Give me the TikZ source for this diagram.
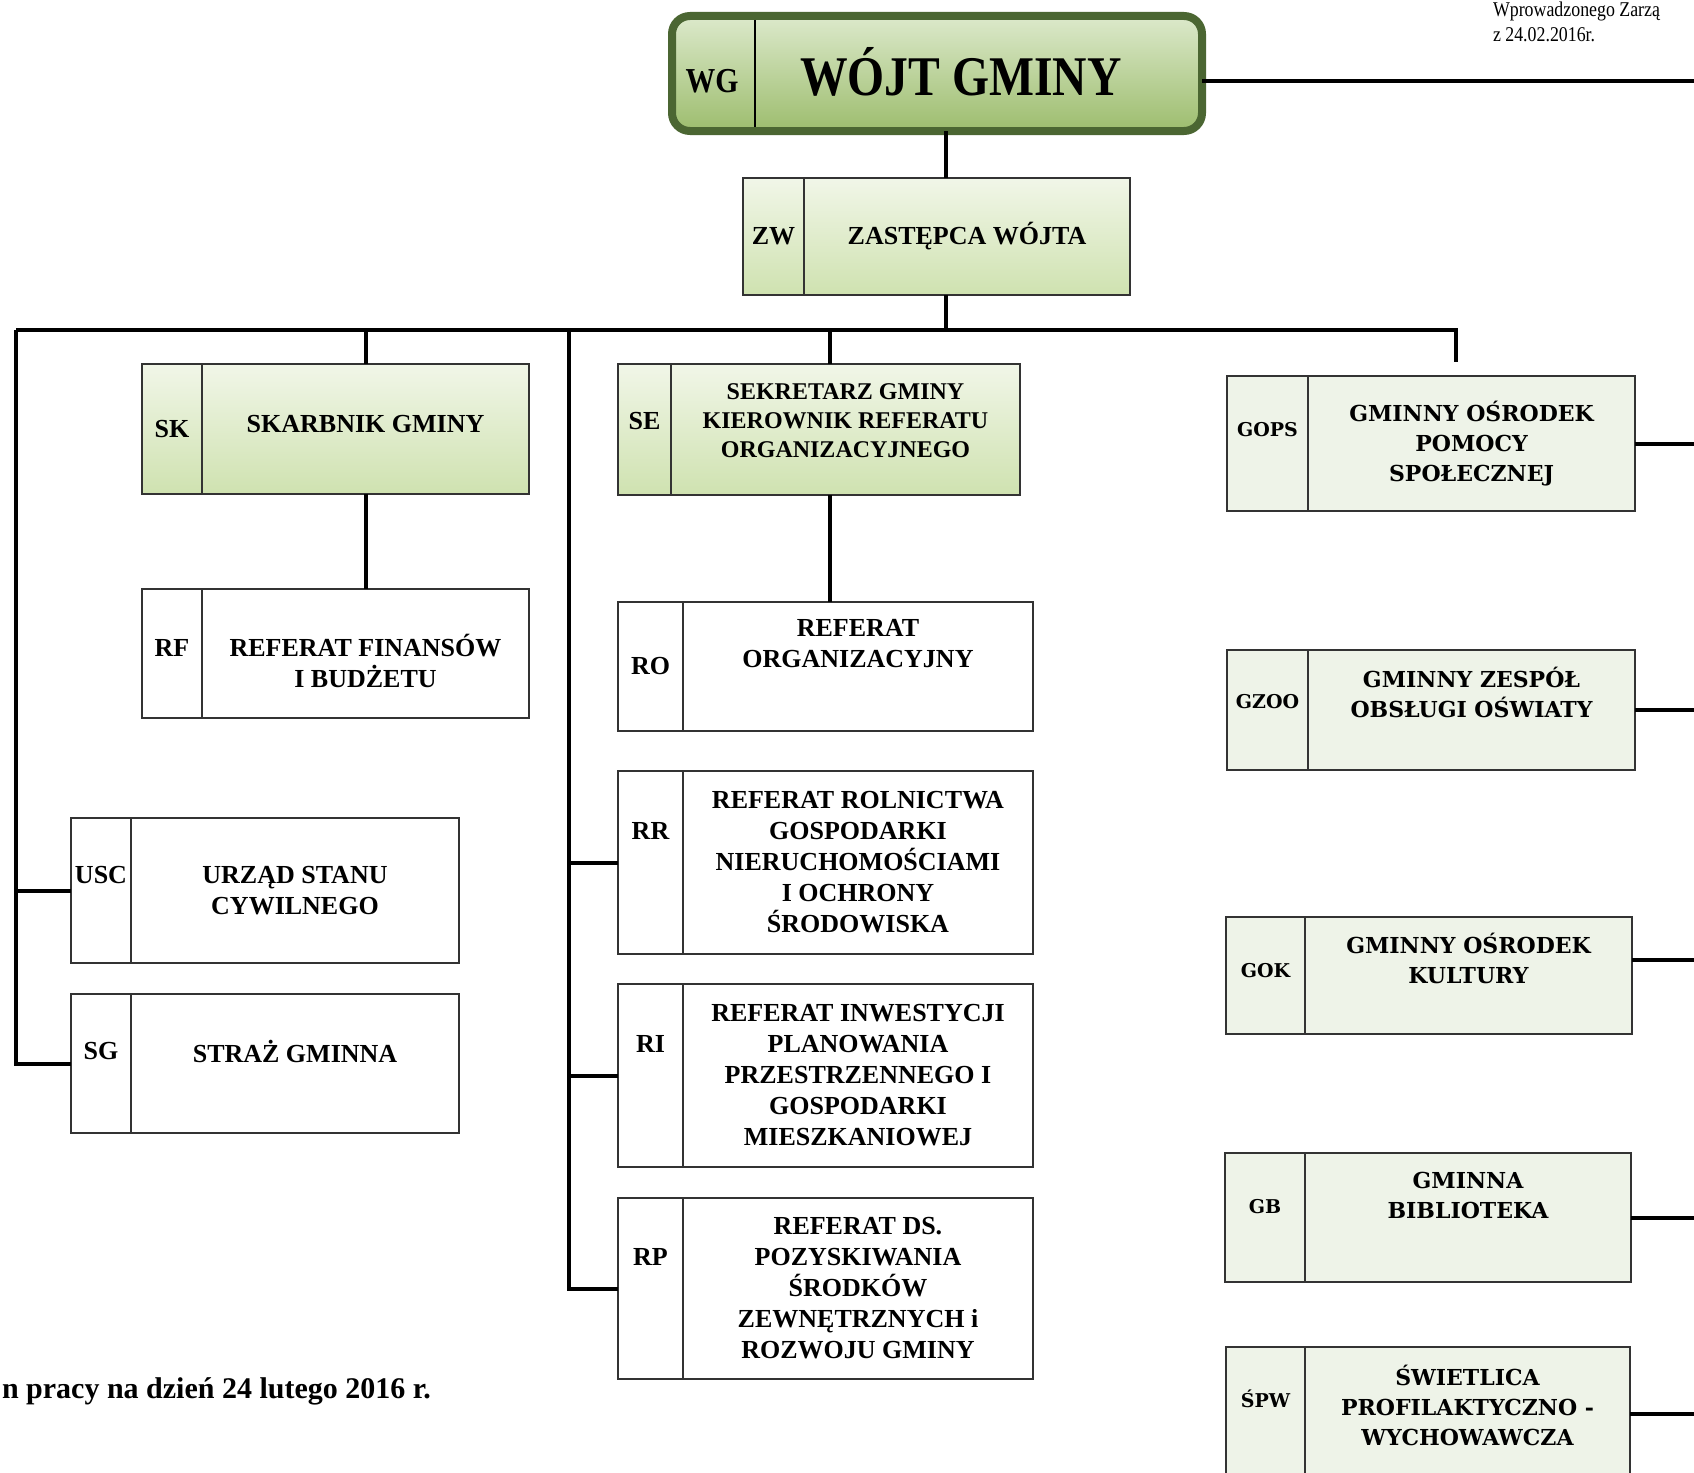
\documentclass[tikz,border=0pt]{standalone}
\usepackage{fontspec}
\setmainfont{Liberation Serif}
\newfontfamily\narrowserif[FakeStretch=0.85]{Liberation Serif}
\newfontfamily\wideserif{DejaVu Serif}
\usetikzlibrary{positioning}
\definecolor{wgborder}{HTML}{4B6632}
\definecolor{wgtop}{HTML}{DCE9CB}
\definecolor{wgbottom}{HTML}{9DBD6E}
\definecolor{paletop}{HTML}{F1F6E8}
\definecolor{palebottom}{HTML}{CFE2B0}
\definecolor{unitfill}{HTML}{EEF3E8}
\tikzset{x=1pt, y=-1pt,
  every node/.style={align=center, inner sep=0pt, outer sep=0pt},
  cell/.style={ % one part of a unit box
    draw=black!80, line width=1.8pt, anchor=north west,
    font=\bfseries\fontsize{26}{31}\selectfont},
  greencell/.style={cell, top color=paletop, bottom color=palebottom},
  whitecell/.style={cell, fill=white},
  unitcell/.style={cell, fill=unitfill,
    font=\wideserif\bfseries\fontsize{22}{30}\selectfont},
  unitcode/.style={unitcell, font=\wideserif\bfseries\fontsize{19}{23}\selectfont},
  celltext/.style={font=\bfseries\fontsize{26}{31}\selectfont},
  unittext/.style={font=\wideserif\bfseries\fontsize{22}{30}\selectfont},
  unitcodetext/.style={font=\wideserif\bfseries\fontsize{19}{23}\selectfont},
  link/.style={draw, line width=4pt}}

\begin{document}
\begin{tikzpicture}
  \useasboundingbox (0,0) rectangle (1694,1472);
  \fill[white] (0,0) rectangle (1694,1472);

  % head of the office
  \node[draw=wgborder, line width=8pt, rounded corners=18pt, top color=wgtop,
    bottom color=wgbottom, anchor=north west, minimum width=530pt,
    minimum height=115pt] (wg) at (672,16) {};
  \draw[line width=1.6pt] ([xshift=83pt,yshift=-4pt]wg.north west) -- ([xshift=83pt,yshift=4pt]wg.south west);
  \node[font=\narrowserif\bfseries\fontsize{35}{40}\selectfont] (wgcode) at (712,81) {WG};
  \node[font=\narrowserif\bfseries\fontsize{56}{60}\selectfont] (wgtitle) at (961,72) {WÓJT GMINY};

  \node[anchor=north west, font=\narrowserif\fontsize{21}{25}\selectfont, align=left] (note) at (1493,2) {Wprowadzonego Zarzą\\z 24.02.2016r.};
  \node[anchor=base west, font=\bfseries\fontsize{30}{34}\selectfont] (date) at (2,1398) {n pracy na dzień 24 lutego 2016 r.};

  \node[greencell, minimum width=61pt, minimum height=117pt] (zwc) at (743,178) {ZW};
  \node[greencell, right=0pt of zwc, minimum width=326pt, minimum height=117pt] (zw) {ZASTĘPCA WÓJTA};

  % left branch
  \node[greencell, minimum width=60pt, minimum height=130pt] (skc) at (142,364) {SK};
  \node[greencell, right=0pt of skc, minimum width=327pt, minimum height=130pt] (sk) {};
  \node[celltext] (sktext) at ([yshift=5pt]sk.center) {SKARBNIK GMINY};
  \node[whitecell, minimum width=60pt, minimum height=129pt] (rfc) at (142,589) {};
  \node[whitecell, right=0pt of rfc, minimum width=327pt, minimum height=129pt] (rf) {};
  \node[celltext] (rflabel) at ([yshift=6pt]rfc.center) {RF};
  \node[celltext] (rftext) at ([yshift=-7pt]rf.center) {REFERAT FINANSÓW\\I BUDŻETU};

  \node[whitecell, minimum width=60pt, minimum height=145pt] (uscc) at (71,818) {};
  \node[whitecell, right=0pt of uscc, minimum width=328pt, minimum height=145pt] (usc) {URZĄD STANU\\CYWILNEGO};
  \node[celltext] (usclabel) at ([yshift=15pt]uscc.center) {USC};
  \node[whitecell, minimum width=60pt, minimum height=139pt] (sgc) at (71,994) {};
  \node[whitecell, right=0pt of sgc, minimum width=328pt, minimum height=139pt] (sg) {};
  \node[celltext] (sglabel) at ([yshift=12pt]sgc.center) {SG};
  \node[celltext] (sgtext) at ([yshift=12pt]sg.center) {STRAŻ GMINNA};

  % middle branch
  \node[greencell, minimum width=53pt, minimum height=131pt] (sec) at (618,364) {};
  \node[greencell, right=0pt of sec, minimum width=349pt, minimum height=131pt] (se) {};
  \node[celltext] (selabel) at ([yshift=8pt]sec.center) {SE};
  \node[font=\bfseries\fontsize{24}{29}\selectfont] (setext) at ([yshift=9pt]se.center) {SEKRETARZ GMINY\\KIEROWNIK REFERATU\\ORGANIZACYJNEGO};
  \node[whitecell, minimum width=65pt, minimum height=129pt] (roc) at (618,602) {RO};
  \node[whitecell, right=0pt of roc, minimum width=350pt, minimum height=129pt] (ro) {};
  \node[celltext] (rotext) at ([yshift=23pt]ro.center) {REFERAT\\ORGANIZACYJNY};

  \node[whitecell, minimum width=65pt, minimum height=183pt] (rrc) at (618,771) {};
  \node[whitecell, right=0pt of rrc, minimum width=350pt, minimum height=183pt] (rr) {REFERAT ROLNICTWA\\GOSPODARKI\\NIERUCHOMOŚCIAMI\\I OCHRONY\\ŚRODOWISKA};
  \node[celltext] (rrlabel) at ([yshift=32pt]rrc.center) {RR};
  \node[whitecell, minimum width=65pt, minimum height=183pt] (ric) at (618,984) {};
  \node[whitecell, right=0pt of ric, minimum width=350pt, minimum height=183pt] (ri) {REFERAT INWESTYCJI\\PLANOWANIA\\PRZESTRZENNEGO I\\GOSPODARKI\\MIESZKANIOWEJ};
  \node[celltext] (rilabel) at ([yshift=32pt]ric.center) {RI};
  \node[whitecell, minimum width=65pt, minimum height=181pt] (rpc) at (618,1198) {};
  \node[whitecell, right=0pt of rpc, minimum width=350pt, minimum height=181pt] (rp) {REFERAT DS.\\POZYSKIWANIA\\ŚRODKÓW\\ZEWNĘTRZNYCH i\\ROZWOJU GMINY};
  \node[celltext] (rplabel) at ([yshift=32pt]rpc.center) {RP};

  % municipal units
  \node[unitcode, minimum width=81pt, minimum height=135pt] (gopsc) at (1227,376) {};
  \node[unitcell, right=0pt of gopsc, minimum width=327pt, minimum height=135pt] (gops) {GMINNY OŚRODEK\\POMOCY\\SPOŁECZNEJ};
  \node[unitcodetext] (gopslabel) at ([yshift=14pt]gopsc.center) {GOPS};
  \node[unitcode, minimum width=81pt, minimum height=120pt] (gzooc) at (1227,650) {};
  \node[unitcell, right=0pt of gzooc, minimum width=327pt, minimum height=120pt] (gzoo) {};
  \node[unitcodetext] (gzoolabel) at ([yshift=8pt]gzooc.center) {GZOO};
  \node[unittext] (gzootext) at ([yshift=18pt]gzoo.center) {GMINNY ZESPÓŁ\\OBSŁUGI OŚWIATY};
  \node[unitcode, minimum width=79pt, minimum height=117pt] (gokc) at (1226,917) {};
  \node[unitcell, right=0pt of gokc, minimum width=327pt, minimum height=117pt] (gok) {};
  \node[unitcodetext] (goklabel) at ([yshift=5pt]gokc.center) {GOK};
  \node[unittext] (goktext) at ([yshift=17pt]gok.center) {GMINNY OŚRODEK\\KULTURY};
  \node[unitcode, minimum width=80pt, minimum height=129pt] (gbc) at (1225,1153) {};
  \node[unitcell, right=0pt of gbc, minimum width=326pt, minimum height=129pt] (gb) {};
  \node[unitcodetext] (gblabel) at ([yshift=11pt]gbc.center) {GB};
  \node[unittext] (gbtext) at ([yshift=22pt]gb.center) {GMINNA\\BIBLIOTEKA};
  \node[unitcode, minimum width=79pt, minimum height=133pt] (spwc) at (1226,1347) {};
  \node[unitcell, right=0pt of spwc, minimum width=325pt, minimum height=133pt] (spw) {};
  \node[unitcodetext] (spwlabel) at ([yshift=15pt]spwc.center) {ŚPW};
  \node[unittext] (spwtext) at ([yshift=8pt]spw.center) {ŚWIETLICA\\PROFILAKTYCZNO -\\WYCHOWAWCZA};

  % connectors
  \coordinate (trunk) at (946,330);
  \coordinate (busleft) at (16,330);
  \coordinate (busright) at (1456,330);
  \coordinate (unitsdrop) at (1456,362);
  \coordinate (midbus) at (569,330);
  \coordinate (sedrop) at (830,330);
  \coordinate (wgout) at (1694,81);

  \draw[link] (wgout -| wg.east) -- (wgout);
  \draw[link] (wg.south -| trunk) -- (zw.north -| trunk);
  \draw[link] (zw.south -| trunk) -- (trunk);
  \draw[link] (busleft) -- (busright) -- (unitsdrop);
  \draw[link] (busleft) |- (sgc.west);
  \draw[link] (uscc.west -| busleft) -- (uscc.west);
  \draw[link] (sk.north |- trunk) -- (sk.north);
  \draw[link] (sk.south) -- (rf.north);
  \draw[link] (sedrop) -- (sedrop |- se.north);
  \draw[link] (se.south -| sedrop) -- (ro.north -| sedrop);
  \draw[link] (midbus) |- (rpc.west);
  \draw[link] (rrc.west -| midbus) -- (rrc.west);
  \draw[link] (ric.west -| midbus) -- (ric.west);
  \draw[link] (gops.east) -- (gops.east -| wgout);
  \draw[link] (gzoo.east) -- (gzoo.east -| wgout);
  \draw[link] ([yshift=16pt]gok.east) -- ([yshift=16pt]gok.east -| wgout);
  \draw[link] (gb.east) -- (gb.east -| wgout);
  \draw[link] (spw.east) -- (spw.east -| wgout);
\end{tikzpicture}
\end{document}
